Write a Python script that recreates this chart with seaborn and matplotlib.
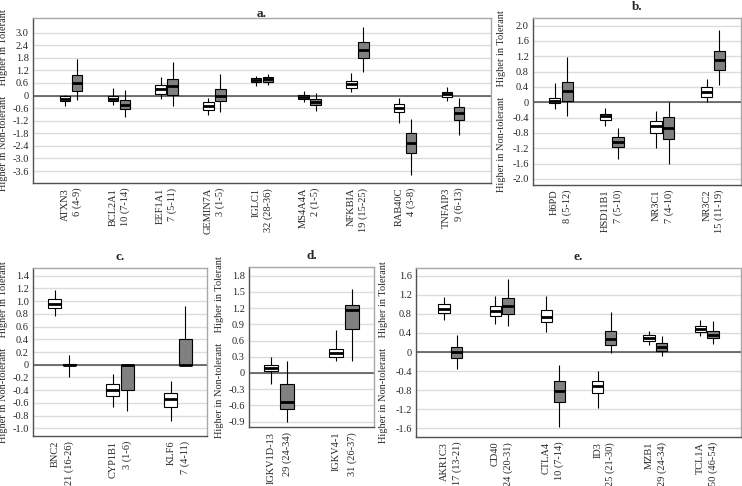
import numpy as np
import pandas as pd
import seaborn as sns
from matplotlib import pyplot as plt
from matplotlib.ticker import FuncFormatter

# Each box: (whisker low, Q1, median, Q3, whisker high)
# === Panel a ===
A_GENES = ["ATXN3", "BCL2A1", "EEF1A1", "GEMIN7A", "IGLC1", "MS4A4A", "NFKBIA", "RAB40C", "TNFAIP3"]
A_COUNTS = ["6 (4-9)", "10 (7-14)", "7 (5-11)", "3 (1-5)", "32 (28-36)", "2 (1-5)",
            "19 (15-25)", "4 (3-8)", "9 (6-13)"]
A_OPEN = [(-0.49, -0.27, -0.14, -0.03, 0.05), (-0.44, -0.27, -0.14, -0.02, 0.35),
          (-0.17, 0.06, 0.30, 0.49, 0.87), (-0.94, -0.68, -0.49, -0.33, -0.13),
          (0.46, 0.65, 0.75, 0.84, 0.95), (-0.29, -0.17, -0.08, 0.02, 0.21),
          (0.17, 0.38, 0.56, 0.70, 1.08), (-1.29, -0.79, -0.57, -0.41, -0.11),
          (-0.24, -0.05, 0.08, 0.17, 0.40)]
A_FILLED = [(-0.21, 0.24, 0.59, 0.97, 1.73), (-1.00, -0.65, -0.43, -0.21, 0.27),
            (-0.49, 0.05, 0.44, 0.81, 1.60), (-0.79, -0.27, 0.00, 0.29, 1.03),
            (0.52, 0.65, 0.78, 0.87, 1.05), (-0.75, -0.46, -0.30, -0.16, 0.11),
            (1.11, 1.78, 2.17, 2.54, 3.25), (-3.79, -2.76, -2.25, -1.79, -1.11),
            (-1.87, -1.17, -0.83, -0.54, -0.11)]

# === Panel b ===
B_GENES = ["H6PD", "HSD11B1", "NR3C1", "NR3C2"]
B_COUNTS = ["8 (5-12)", "7 (5-10)", "7 (4-10)", "15 (11-19)"]
B_OPEN = [(-0.18, -0.01, 0.04, 0.10, 0.51), (-0.63, -0.46, -0.37, -0.30, -0.14),
          (-1.20, -0.79, -0.63, -0.50, -0.23), (0.00, 0.15, 0.28, 0.39, 0.60)]
B_FILLED = [(-0.35, 0.02, 0.30, 0.54, 1.17), (-1.49, -1.18, -1.03, -0.90, -0.68),
            (-1.62, -0.96, -0.66, -0.38, 0.00), (0.45, 0.83, 1.10, 1.35, 1.88)]

# === Panel c ===
C_GENES = ["BNC2", "CYP1B1", "KLF6"]
C_COUNTS = ["21 (16-26)", "3 (1-6)", "7 (4-11)"]
C_OPEN = [(0.76, 0.89, 0.96, 1.04, 1.17), (-0.66, -0.49, -0.39, -0.30, -0.14),
          (-0.88, -0.67, -0.54, -0.44, -0.25)]
C_FILLED = [(-0.19, -0.01, 0.00, 0.01, 0.15), (-0.73, -0.39, 0.00, 0.00, 0.00),
            (0.00, 0.00, 0.00, 0.41, 0.92)]

# === Panel d ===
D_GENES = ["IGKV1D-13", "IGKV4-1"]
D_COUNTS = ["29 (24-34)", "31 (26-37)"]
D_OPEN = [(-0.21, 0.03, 0.09, 0.14, 0.29), (0.22, 0.30, 0.37, 0.44, 0.79)]
D_FILLED = [(-0.91, -0.66, -0.53, -0.20, 0.23), (0.23, 0.81, 1.16, 1.26, 1.56)]

# === Panel e ===
E_GENES = ["AKR1C3", "CD40", "CTLA4", "ID3", "MZB1", "TCL1A"]
E_COUNTS = ["17 (13-21)", "24 (20-31)", "10 (7-14)", "25 (21-30)", "29 (24-34)", "50 (46-54)"]
E_OPEN = [(0.68, 0.81, 0.90, 1.00, 1.16), (0.58, 0.76, 0.86, 0.97, 1.18),
          (0.42, 0.62, 0.74, 0.89, 1.18), (-1.17, -0.86, -0.72, -0.60, -0.39),
          (0.14, 0.24, 0.30, 0.36, 0.44), (0.34, 0.42, 0.48, 0.54, 0.67)]
E_FILLED = [(-0.36, -0.12, 0.00, 0.11, 0.35), (0.55, 0.79, 0.96, 1.14, 1.54),
            (-1.58, -1.05, -0.81, -0.61, -0.28), (-0.02, 0.15, 0.27, 0.43, 0.83),
            (-0.09, 0.02, 0.11, 0.19, 0.34), (0.16, 0.29, 0.36, 0.45, 0.65)]

YLABEL = "Higher in Non-tolerant    Higher in Tolerant"
FS = 7.5

sns.set_style("white")
plt.rcParams["font.family"] = ["Liberation Serif", "DejaVu Serif"]

W, H = 742, 486


def add_axes_px(fig, left, top, right, bottom):
    return fig.add_axes([left / W, 1 - bottom / H, (right - left) / W, (bottom - top) / H])


def draw_panel(ax, title, genes, counts, open_stats, filled_stats,
               yticks, ylim, xlim, label_px, title_pad):
    rows = []
    for gene, o, f in zip(genes, open_stats, filled_stats):
        rows += [(gene, "open", v) for v in o]
        rows += [(gene, "filled", v) for v in f]
    df = pd.DataFrame(rows, columns=["gene", "group", "value"])

    ax.set_axisbelow(True)
    ax.yaxis.grid(True, color="#dcdcdc", linewidth=1)
    ax.axhline(0, color="#5a5a5a", linewidth=1.2, zorder=1)

    sns.boxplot(data=df, x="gene", y="value", hue="group", order=genes,
                hue_order=["open", "filled"],
                palette={"open": "white", "filled": "#808080"},
                width=0.5, gap=0.12, whis=np.inf, showcaps=False,
                linecolor="black", linewidth=0.8, saturation=1,
                medianprops=dict(linewidth=2, color="black"),
                legend=False, ax=ax)

    pos, labels = [], []
    for i, (g, c) in enumerate(zip(genes, counts)):
        pos += [i - 0.125, i + 0.125]
        labels += [g, c]
    ax.set_xticks(pos, labels, rotation=90, fontsize=FS)
    ax.set_xlim(*xlim)
    ax.set_xlabel("")

    ax.set_yticks(yticks)
    ax.set_ylim(*ylim)
    ax.yaxis.set_major_formatter(FuncFormatter(lambda v, _: "0" if abs(v) < 1e-9 else f"{v:.1f}"))
    ax.tick_params(axis="y", length=0, labelsize=FS, pad=3)
    ax.tick_params(axis="x", length=2.5, width=0.8, color="#404040", pad=1)

    # label centre given in pixels left of the axes
    ax.set_ylabel(YLABEL, fontsize=FS)
    ax_w = ax.get_position().width * W
    ax.yaxis.set_label_coords(-label_px / ax_w, 0.5)
    ax.set_title(title, fontsize=9.5, fontweight="bold", pad=title_pad)

    for side in ["left", "bottom"]:
        ax.spines[side].set_color("#505050")
        ax.spines[side].set_linewidth(1)
    for side in ["top", "right"]:
        ax.spines[side].set_color("#a8a8a8")
        ax.spines[side].set_linewidth(1)


fig = plt.figure(figsize=(W / 100, H / 100), dpi=100)

ax_a = add_axes_px(fig, 33, 18, 491, 183)
draw_panel(ax_a, "a.", A_GENES, A_COUNTS, A_OPEN, A_FILLED,
           np.round(np.arange(-3.6, 3.01, 0.6), 1), (-4.17, 3.7), (-0.8, 8.8), 25, 1)

ax_b = add_axes_px(fig, 533, 18, 741, 185)
draw_panel(ax_b, "b.", B_GENES, B_COUNTS, B_OPEN, B_FILLED,
           np.round(np.arange(-2.0, 2.01, 0.4), 1), (-2.16, 2.2), (-0.55, 3.55), 27, 6)

ax_c = add_axes_px(fig, 33, 268, 207, 436)
draw_panel(ax_c, "c.", C_GENES, C_COUNTS, C_OPEN, C_FILLED,
           np.round(np.arange(-1.0, 1.41, 0.2), 1), (-1.12, 1.52), (-0.5, 2.5), 25, 6)

ax_d = add_axes_px(fig, 249, 267, 374, 427)
draw_panel(ax_d, "d.", D_GENES, D_COUNTS, D_OPEN, D_FILLED,
           np.round(np.arange(-0.9, 1.81, 0.3), 1), (-1.0, 1.96), (-0.47, 1.47), 25, 6)

ax_e = add_axes_px(fig, 416, 268, 741, 437)
draw_panel(ax_e, "e.", E_GENES, E_COUNTS, E_OPEN, E_FILLED,
           np.round(np.arange(-1.6, 1.61, 0.4), 1), (-1.78, 1.76), (-0.67, 5.67), 28, 6)

fig.savefig("out.png", dpi=100)
plt.close(fig)
